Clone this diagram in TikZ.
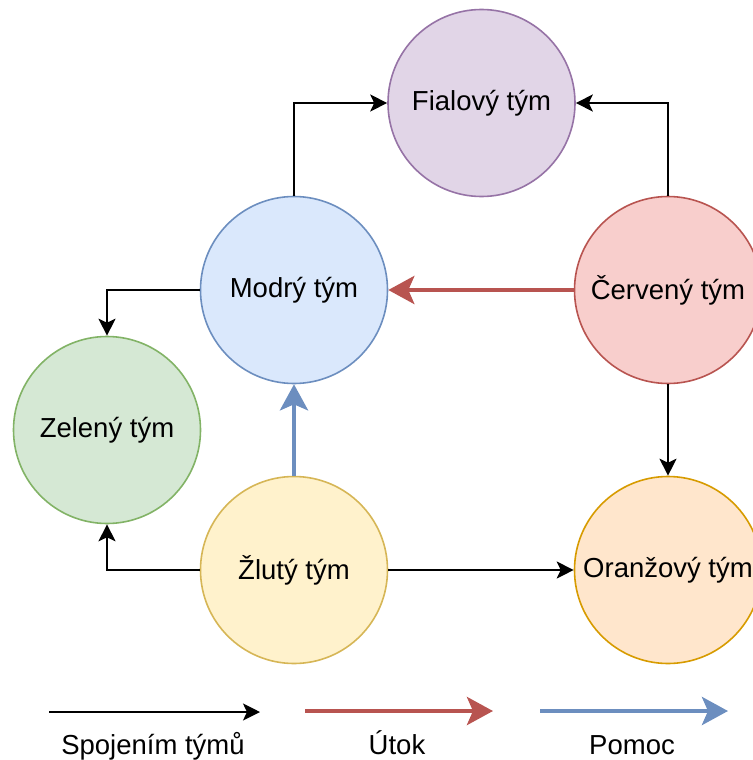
\documentclass[tikz,border=0pt]{standalone}
\usepackage{fontspec}
\setmainfont{Liberation Sans}
\usetikzlibrary{arrows.meta}
\definecolor{fiaF}{HTML}{E1D5E7}\definecolor{fiaD}{HTML}{9673A6}
\definecolor{modF}{HTML}{DAE8FC}\definecolor{modD}{HTML}{6C8EBF}
\definecolor{cerF}{HTML}{F8CECC}\definecolor{cerD}{HTML}{B85450}
\definecolor{zelF}{HTML}{D5E8D4}\definecolor{zelD}{HTML}{82B366}
\definecolor{zluF}{HTML}{FFF2CC}\definecolor{zluD}{HTML}{D6B656}
\definecolor{oraF}{HTML}{FFE6CC}\definecolor{oraD}{HTML}{D79B00}
\begin{document}
\begin{tikzpicture}[x=1pt,y=-1pt,
  team/.style={circle,minimum size=187pt,inner sep=0pt,line width=1.6pt,font=\fontsize{27.5}{32}\selectfont},
  lbl/.style={inner sep=0pt,anchor=base,font=\fontsize{27.5}{32}\selectfont},
  conn/.style={line width=1.6pt,-{Stealth[length=17pt,width=17pt,inset=4pt]}},
  attack/.style={line width=4.5pt,draw=cerD,-{Stealth[length=26pt,width=28pt,inset=6pt]}},
  help/.style={line width=4.5pt,draw=modD,-{Stealth[length=26pt,width=28pt,inset=6pt]}}]
\useasboundingbox (0,0) rectangle (752,760);
\node[team,fill=fiaF,draw=fiaD] (fia) at (481.5,103) {Fialový tým};
\node[team,fill=modF,draw=modD] (mod) at (294,290) {Modrý tým};
\node[team,fill=cerF,draw=cerD] (cer) at (668,290) {Červený tým};
\node[team,fill=zelF,draw=zelD] (zel) at (107,430) {Zelený tým};
\node[team,fill=zluF,draw=zluD] (zlu) at (294,570) {Žlutý tým};
\node[team,fill=oraF,draw=oraD] (ora) at (668,570) {Oranžový tým};
\draw[conn] (mod.north) |- (fia.west);
\draw[conn] (cer.north) |- (fia.east);
\draw[attack] (cer.west) -- (mod.east);
\draw[conn] (mod.west) -| (zel.north);
\draw[help] (zlu.north) -- (mod.south);
\draw[conn] (zlu.west) -| (zel.south);
\draw[conn] (zlu.east) -- (ora.west);
\draw[conn] (cer.south) -- (ora.north);
\coordinate (l1a) at (49,712); \coordinate (l1b) at (260,712);
\coordinate (l2a) at (305,711); \coordinate (l2b) at (493,711);
\coordinate (l3a) at (540,711); \coordinate (l3b) at (728,711);
\draw[conn] (l1a) -- (l1b);
\draw[attack] (l2a) -- (l2b);
\draw[help] (l3a) -- (l3b);
\node[lbl] (t1) at (153,754) {Spojením týmů};
\node[lbl] (t2) at (397,754) {Útok};
\node[lbl] (t3) at (632,754) {Pomoc};
\end{tikzpicture}
\end{document}
